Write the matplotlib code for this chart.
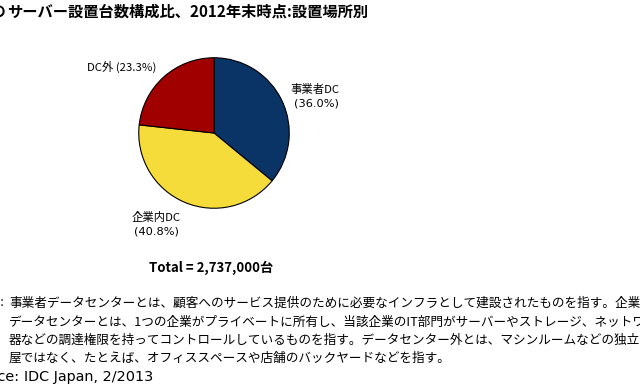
import matplotlib
matplotlib.use("Agg")
import matplotlib.pyplot as plt

plt.rcParams['font.family'] = ['Noto Sans CJK JP', 'DejaVu Sans']

# Data
categories = ["事業者DC", "企業内DC", "DC外"]
shares = [36.0, 40.8, 23.3]
colors = ["#0A3366", "#F5DC3A", "#A00000"]
title_prefix = "国内の"
title_text = "サーバー設置台数構成比、2012年末時点:設置場所別"
total_text = "Total = 2,737,000台"
note_lines = [
    "事業者データセンターとは、顧客へのサービス提供のために必要なインフラとして建設されたものを指す。企業内",
    "データセンターとは、1つの企業がプライベートに所有し、当該企業のIT部門がサーバーやストレージ、ネットワーク機",
    "器などの調達権限を持ってコントロールしているものを指す。データセンター外とは、マシンルームなどの独立した部",
    "屋ではなく、たとえば、オフィススペースや店舗のバックヤードなどを指す。",
]
source_label = "Source:"
source_text = "IDC Japan, 2/2013"

W, H = 640, 390
fig = plt.figure(figsize=(W / 100, H / 100), dpi=100)
fig.patch.set_facecolor("white")

def px(x, y):
    return x / W, 1 - y / H

# Pie axes: center (214,133) px, radius 76 px
cx, cy, r = 214, 133, 76
ax = fig.add_axes([(cx - r) / W, 1 - (cy + r) / H, 2 * r / W, 2 * r / H])
ax.pie(shares, colors=colors, startangle=90, counterclock=False,
       wedgeprops=dict(edgecolor="black", linewidth=0.8), radius=1.0)
ax.set_xlim(-1.01, 1.01)
ax.set_ylim(-1.01, 1.01)
ax.set_aspect("equal")
ax.axis("off")

lab_fs = 8.2
# 事業者DC
fig.text(*px(315, 89), categories[0], ha="center", va="center", fontsize=lab_fs)
fig.text(*px(316, 103), f"({shares[0]:.1f}%)", ha="center", va="center", fontsize=lab_fs,
         family="DejaVu Sans")
# 企業内DC
fig.text(*px(156, 218), categories[1], ha="center", va="center", fontsize=lab_fs)
fig.text(*px(156, 232), f"({shares[1]:.1f}%)", ha="center", va="center", fontsize=lab_fs,
         family="DejaVu Sans")
# DC外
fig.text(*px(122, 67), f"{categories[2]} ({shares[2]:.1f}%)", ha="center", va="center",
         fontsize=lab_fs)

# Title
fig.text(*px(7, 12), title_prefix, ha="right", va="center", fontsize=11, fontweight="bold")
fig.text(*px(7, 12), title_text, ha="left", va="center", fontsize=11, fontweight="bold")

# Total
fig.text(*px(211, 268), total_text, ha="center", va="center", fontsize=9.5, fontweight="bold")

# Notes
note_fs = 9.1
note_y = [303, 322, 340, 358]
fig.text(*px(5, note_y[0]), "Note:", ha="right", va="center", fontsize=note_fs)
for y, line in zip(note_y, note_lines):
    fig.text(*px(9, y), line, ha="left", va="center", fontsize=note_fs)

fig.text(*px(19, 377), source_label, ha="right", va="center", fontsize=10.4, family="DejaVu Sans")
fig.text(*px(24, 377), source_text, ha="left", va="center", fontsize=10.4, family="DejaVu Sans")

fig.savefig("out.png", dpi=100)
